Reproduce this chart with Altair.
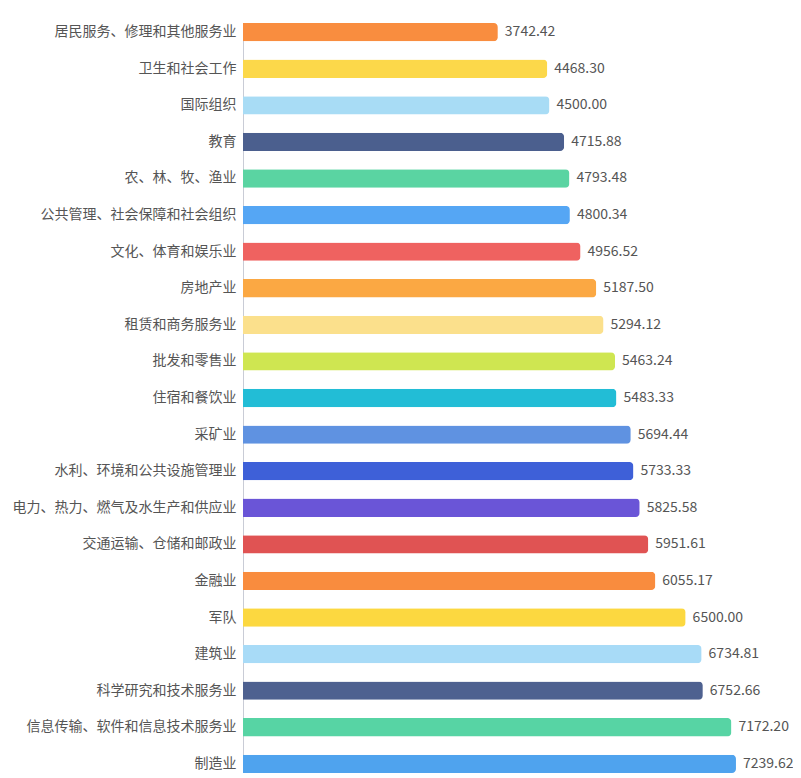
import altair as alt
import pandas as pd

categories = [
    "居民服务、修理和其他服务业", "卫生和社会工作", "国际组织", "教育",
    "农、林、牧、渔业", "公共管理、社会保障和社会组织", "文化、体育和娱乐业",
    "房地产业", "租赁和商务服务业", "批发和零售业", "住宿和餐饮业", "采矿业",
    "水利、环境和公共设施管理业", "电力、热力、燃气及水生产和供应业",
    "交通运输、仓储和邮政业", "金融业", "军队", "建筑业",
    "科学研究和技术服务业", "信息传输、软件和信息技术服务业", "制造业",
]
values = [
    3742.42, 4468.30, 4500.00, 4715.88, 4793.48, 4800.34, 4956.52,
    5187.50, 5294.12, 5463.24, 5483.33, 5694.44, 5733.33, 5825.58,
    5951.61, 6055.17, 6500.00, 6734.81, 6752.66, 7172.20, 7239.62,
]
colors = [
    "#f98d3f", "#fcd84a", "#a8dcf5", "#4b5f8e", "#5ad4a2", "#55a6f4", "#ef6260",
    "#fba843", "#fbe08c", "#cfe651", "#22bdd6", "#5f92e1", "#3e60d8", "#6a55d7",
    "#e05353", "#f98c3e", "#fcd840", "#a8dbf7", "#4e6190", "#57d4a4", "#4fa3ee",
]

df = pd.DataFrame({"cat": categories, "val": values})

FONT = "Noto Sans CJK SC"

base = alt.Chart(df).encode(
    y=alt.Y(
        "cat:N",
        sort=categories,
        scale=alt.Scale(paddingInner=0.5, paddingOuter=0.0),
        axis=alt.Axis(
            title=None, ticks=False, labelPadding=7, labelFontSize=14,
            labelColor="#555555", labelFont=FONT, labelLimit=0,
            domainColor="#c9ccd6", domainWidth=1, grid=False,
        ),
    ),
    x=alt.X("val:Q", scale=alt.Scale(domain=[0, 8077], nice=False), axis=None),
)

bars = base.mark_bar(cornerRadiusEnd=4).encode(
    color=alt.Color("cat:N", scale=alt.Scale(domain=categories, range=colors), legend=None)
)

labels = base.mark_text(
    align="left", baseline="middle", dx=7, fontSize=14, font=FONT, color="#555555"
).encode(text=alt.Text("val:Q", format=".2f"))

chart = (
    alt.layer(bars, labels)
    .properties(
        width=550,
        height=750,
        autosize=alt.AutoSizeParams(type="none"),
        padding={"left": 235, "top": 15, "right": 0, "bottom": 0},
    )
    .configure_view(stroke=None)
)

chart.save("out.html", embed_options={"renderer": "svg", "actions": False})
